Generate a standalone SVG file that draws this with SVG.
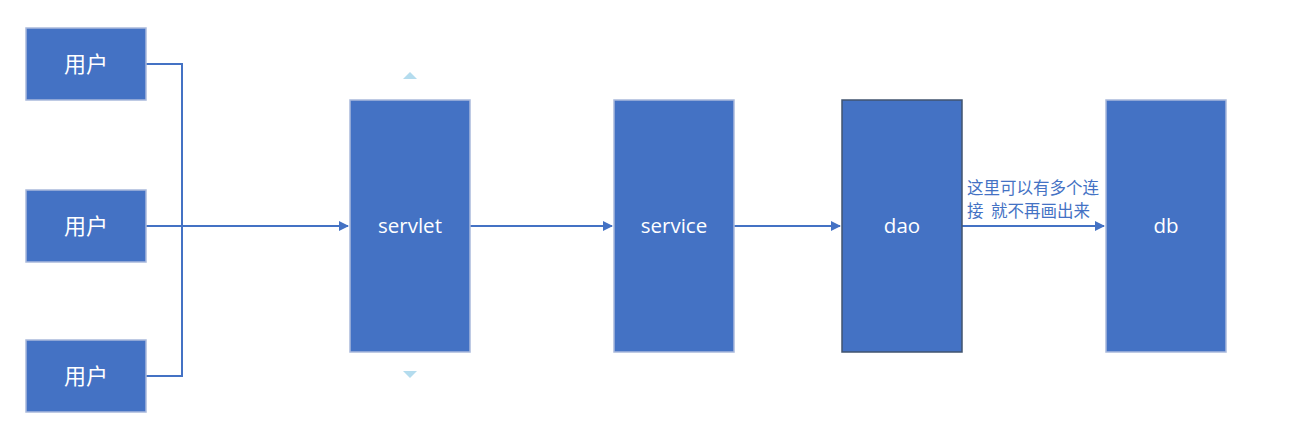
<svg xmlns="http://www.w3.org/2000/svg" width="1301" height="444" viewBox="0 0 1301 444">
<style>
.box{fill:#4472c4;stroke:#a9b9dc;stroke-width:1.5}
.dark{fill:#4472c4;stroke:#41546f;stroke-width:1.5}
.t{fill:#ffffff;font-family:"Open Sans","Noto Sans CJK SC",sans-serif;font-size:20.5px;text-anchor:middle}
.cn{fill:#ffffff;font-family:"Noto Sans CJK SC",sans-serif;font-size:22px;text-anchor:middle}
.c{fill:none;stroke:#4472c4;stroke-width:2}
.lbl{fill:#4472c4;font-family:"Noto Sans CJK SC","Microsoft YaHei",sans-serif;font-size:16.5px}
.tri{fill:#b4dcee}
</style>
<defs>
<marker id="ah" markerWidth="10" markerHeight="10" refX="9" refY="5" orient="auto" markerUnits="userSpaceOnUse">
<path d="M0,0 L10,5 L0,10 Z" fill="#4472c4"/>
</marker>
</defs>
<rect width="1301" height="444" fill="#ffffff"/>
<g id="connectors">
<path class="c" d="M146,64 H182 V376 H146"/>
<path class="c" d="M146,226 H348" marker-end="url(#ah)"/>
<path class="c" d="M470,226 H612" marker-end="url(#ah)"/>
<path class="c" d="M734,226 H840" marker-end="url(#ah)"/>
<path class="c" d="M962,226 H1104" marker-end="url(#ah)"/>
<text class="lbl" x="967" y="194">这里可以有多个连</text>
<text class="lbl" x="967" y="217" xml:space="preserve">接  就不再画出来</text>
</g>
<g id="user1"><rect class="box" x="26" y="28" width="120" height="72"/><text class="cn" x="86" y="72">用户</text></g>
<g id="user2"><rect class="box" x="26" y="190" width="120" height="72"/><text class="cn" x="86" y="234">用户</text></g>
<g id="user3"><rect class="box" x="26" y="340" width="120" height="72"/><text class="cn" x="86" y="384">用户</text></g>
<g id="servlet"><rect class="box" x="350" y="100" width="120" height="252"/><text class="t" x="410" y="233">servlet</text>
<path class="tri" d="M403,79 L410,72 L417,79 Z"/><path class="tri" d="M403,371 L410,378 L417,371 Z"/></g>
<g id="service"><rect class="box" x="614" y="100" width="120" height="252"/><text class="t" x="674" y="233">service</text></g>
<g id="dao"><rect class="dark" x="842" y="100" width="120" height="252"/><text class="t" x="902" y="233">dao</text></g>
<g id="db"><rect class="box" x="1106" y="100" width="120" height="252"/><text class="t" x="1166" y="233">db</text></g>
</svg>
